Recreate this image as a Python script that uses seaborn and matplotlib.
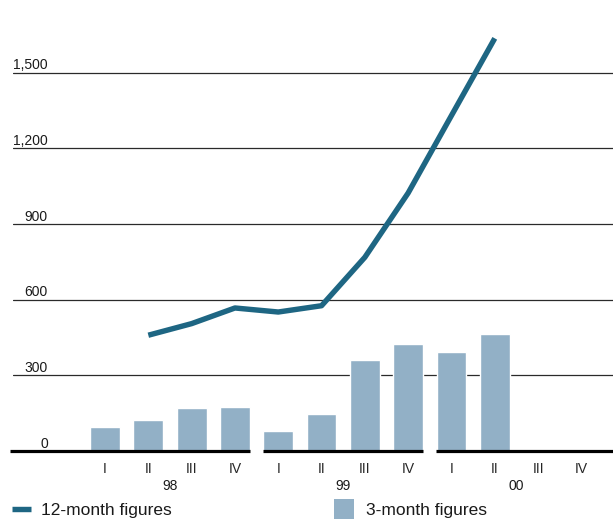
import numpy as np
import pandas as pd
import seaborn as sns
import matplotlib.pyplot as plt
from matplotlib.lines import Line2D

quarters = ['I', 'II', 'III', 'IV'] * 3
years = ['98', '99', '00']
three_month = [97, 123, 172, 176, 81, 145, 359, 423, 391, 463, 0, 0]
twelve_month = [np.nan, 459, 505, 567, 551, 576, 768, 1023, 1330, 1636, np.nan, np.nan]
y_ticks = [0, 300, 600, 900, 1200, 1500]

bar_color = '#92b0c6'
line_color = '#1e6683'
text_color = '#1a1a1a'

sns.set_style('white')
plt.rcParams['font.family'] = ['Liberation Sans', 'DejaVu Sans']
plt.rcParams['text.color'] = text_color

df = pd.DataFrame({'pos': range(len(quarters)), 'quarter': quarters,
                   'three': three_month, 'twelve': twelve_month})

fig = plt.figure(figsize=(6.13, 5.2), dpi=100)
ax = fig.add_axes([13 / 613, 69 / 520, 600 / 613, 451 / 520])

sns.barplot(data=df, x='pos', y='three', color=bar_color, width=0.69,
            saturation=1, ax=ax, zorder=2)
line_df = df.dropna(subset=['twelve'])
sns.lineplot(data=line_df, x='pos', y='twelve', color=line_color, lw=3.9,
             solid_capstyle='butt', ax=ax, zorder=3)

ax.set_xlim(-2.125, 11.73)
ax.set_ylim(0, 1788)
for s in ax.spines.values():
    s.set_visible(False)

# horizontal rules (no rule at zero, the baseline is drawn in pieces)
ax.set_yticks(y_ticks[1:])
ax.set_yticklabels([])
ax.tick_params(axis='y', length=0)
ax.grid(axis='y', color='#2a2a2a', lw=0.9, zorder=1)
ax.grid(axis='x', visible=False)
ax.set_axisbelow(True)

ytrans = ax.get_yaxis_transform()
for v in y_ticks:
    ax.annotate(f'{v:,}', xy=(0.0583, v), xycoords=ytrans, xytext=(0, 2.4),
                textcoords='offset points', ha='right', va='baseline', fontsize=10)

# baseline broken between years
ax.hlines([0, 0, 0], [-2.2, 3.65, 7.64], [3.35, 7.34, 11.8], color='black', lw=2.3,
          clip_on=False, zorder=4)

ax.set_xticks(range(len(quarters)))
ax.set_xticklabels(quarters, fontsize=10)
ax.tick_params(axis='x', length=0, pad=8)
ax.set_xlabel('')
ax.set_ylabel('')

xtrans = ax.get_xaxis_transform()
for i, yr in enumerate(years):
    ax.annotate(yr, xy=(i * 4 + 1.5, 0), xycoords=xtrans, xytext=(0, -20.4),
                textcoords='offset points', ha='center', va='top', fontsize=10)

h1 = Line2D([0], [0], color=line_color, lw=3.9, solid_capstyle='butt')
h2 = Line2D([0], [0], marker='s', ls='none', markersize=13.7,
            markerfacecolor=bar_color, markeredgewidth=0)
fig.legend([h1], ['12-month figures'], loc='center left',
           bbox_to_anchor=(12 / 613, 9.5 / 520), frameon=False,
           borderpad=0, borderaxespad=0, handlelength=1.09,
           handletextpad=0.58, fontsize=12.5)
fig.legend([h2], ['3-month figures'], loc='center left',
           bbox_to_anchor=(335 / 613, 9.5 / 520), frameon=False,
           borderpad=0, borderaxespad=0, handlelength=1.09,
           handletextpad=0.69, fontsize=12.5)

plt.savefig('out.png', dpi=100)
